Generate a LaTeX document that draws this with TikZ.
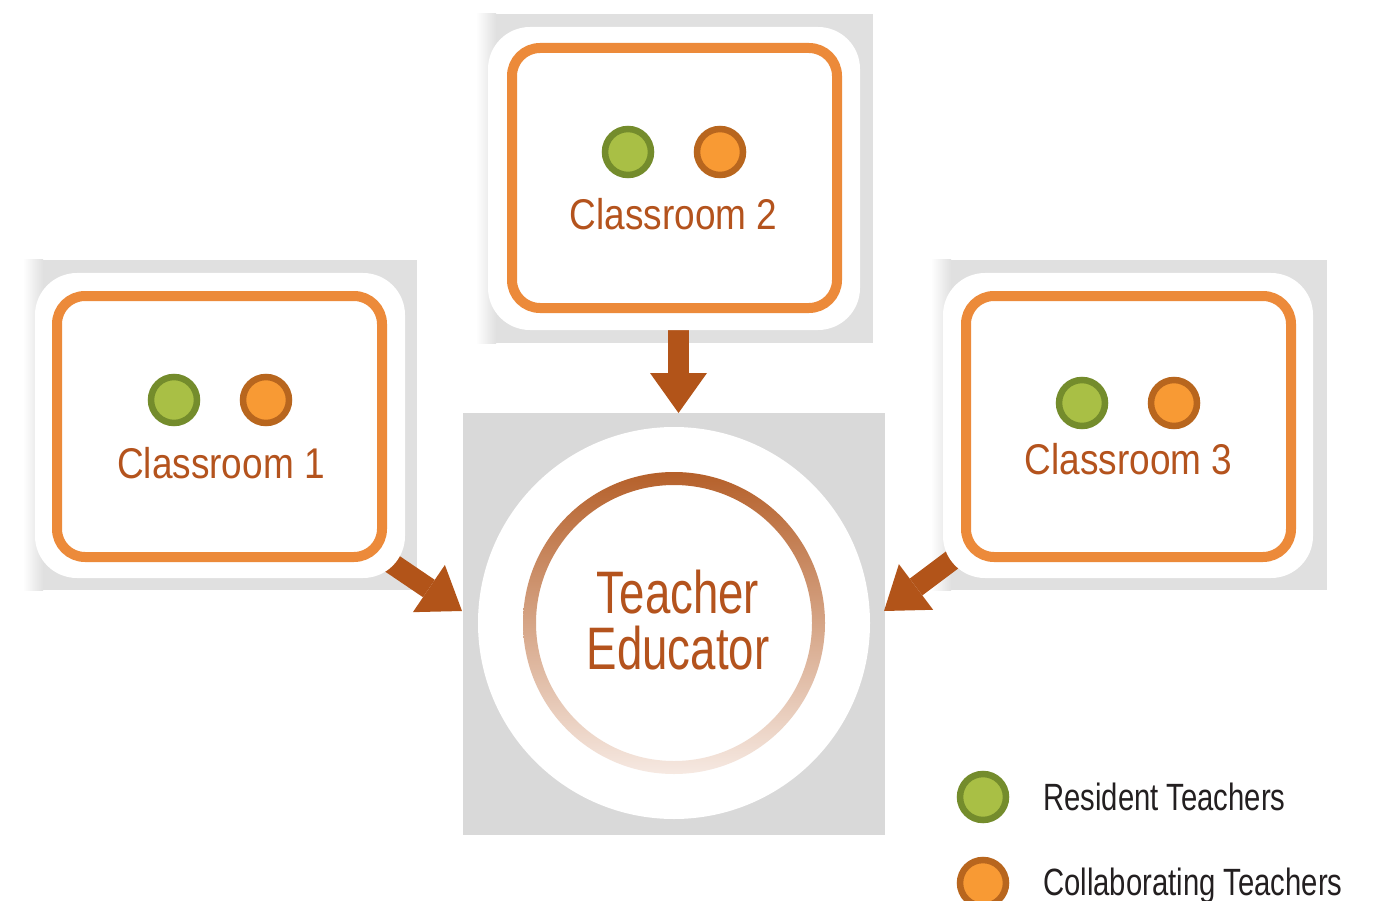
\documentclass[tikz,border=0pt]{standalone}
\usepackage{fontspec}
\setmainfont{Liberation Sans}
\newfontfamily\cfA{Liberation Sans}[FakeStretch=0.86]
\newfontfamily\cfB{Liberation Sans}[FakeStretch=0.77]
\newfontfamily\cfC{Liberation Sans}[FakeStretch=0.76]
\usetikzlibrary{arrows.meta}
\definecolor{boxorange}{HTML}{EC8A3A}
\definecolor{txtbrown}{HTML}{B4531D}
\definecolor{arrbrown}{HTML}{B25419}
\definecolor{grnfill}{HTML}{A9BF45}
\definecolor{grnline}{HTML}{748C2C}
\definecolor{orgfill}{HTML}{F89A34}
\definecolor{orgline}{HTML}{B8661E}
\definecolor{sqgray}{HTML}{D9D9D9}
\definecolor{shadowgray}{HTML}{E0E0E0}
\definecolor{ringtop}{HTML}{B5602A}
\definecolor{ringbot}{HTML}{F6E9E2}
\definecolor{legtxt}{HTML}{231F20}
\tikzset{
  shadowbox/.style={fill=shadowgray, draw=none},
  whitebox/.style={draw=none, fill=white, rounded corners=42pt, inner sep=0pt, outer sep=0pt},
  roombox/.style={draw=boxorange, line width=10pt, fill=white, rounded corners=28pt, inner sep=0pt, minimum width=325pt, minimum height=261pt},
  rdot/.style={circle, draw=grnline, fill=grnfill, line width=6.5pt, minimum size=46pt, inner sep=0pt},
  cdot/.style={circle, draw=orgline, fill=orgfill, line width=6.5pt, minimum size=46pt, inner sep=0pt},
  roomlabel/.style={anchor=base, inner sep=0pt, text=txtbrown, font=\cfA\fontsize{43}{43}\selectfont},
  legendlabel/.style={anchor=base west, inner sep=0pt, text=legtxt, font=\cfB\fontsize{38}{38}\selectfont},
  bigarrow/.style={draw=arrbrown, line width=21pt, -{Triangle[length=40pt, width=57pt, line width=0pt]}},
}
\begin{document}
\begin{tikzpicture}[x=1pt, y=-1pt]
\useasboundingbox (0,0) rectangle (1378,901);
% central gray square and circles
\fill[sqgray] (463,413) rectangle (885,835);
\node[circle, fill=white, minimum size=392pt, inner sep=0pt] (outer) at (674,623) {};
\shade[top color=ringtop, bottom color=ringbot, even odd rule] (674,623) circle (151) (674,623) circle (138);
\node[align=center, inner sep=0pt, text=txtbrown, font=\cfC\fontsize{60}{56}\selectfont] (te) at (678,620) {Teacher\\Educator};

% shadows
\fill[shadowgray] (478,14) rectangle (873,343);
\shade[left color=white, right color=shadowgray] (476,14) rectangle (496,343);
\fill[shadowgray] (25,260) rectangle (417,590);
\shade[left color=white, right color=shadowgray] (23,260) rectangle (43,590);
\fill[shadowgray] (933,260) rectangle (1327,590);
\shade[left color=white, right color=shadowgray] (931,260) rectangle (951,590);

% arrow coordinates
\coordinate (a2s) at (678.5,300);
\coordinate (a2e) at (678.5,413);
\coordinate (a1s) at (372,550);
\coordinate (a1e) at (462,611);
\coordinate (a3s) at (972,545);
\coordinate (a3e) at (884,611);
\draw[bigarrow] (a2s) -- (a2e);
\draw[bigarrow] (a1s) -- (a1e);
\draw[bigarrow] (a3s) -- (a3e);

% white boxes
\node[whitebox, minimum width=372pt, minimum height=303pt] (w2) at (674,178.5) {};
\node[whitebox, minimum width=370pt, minimum height=305pt] (w1) at (220,425.5) {};
\node[whitebox, minimum width=370pt, minimum height=305pt] (w3) at (1128,425.5) {};

% classroom boxes
\node[roombox, minimum height=260pt] (c2) at (674.5,178) {};
\node[roombox] (c1) at (219.5,426.5) {};
\node[roombox] (c3) at (1128.5,426.5) {};

% dots
\node[rdot] (g2) at (628,152) {};
\node[cdot] (o2) at (720,152) {};
\node[rdot] (g1) at (174,400) {};
\node[cdot] (o1) at (266,400) {};
\node[rdot] (g3) at (1082,403) {};
\node[cdot] (o3) at (1174,403) {};

% labels
\node[roomlabel] (l2) at (673.5,230) {Classroom 2};
\node[roomlabel] (l1) at (221,478) {Classroom 1};
\node[roomlabel] (l3) at (1128.5,474) {Classroom 3};

% legend
\node[rdot] (lg) at (983,797) {};
\node[cdot] (lo) at (983,883) {};
\node[legendlabel] (lgt) at (1043,810) {Resident Teachers};
\node[legendlabel] (lot) at (1043,895) {Collaborating Teachers};
\end{tikzpicture}
\end{document}
